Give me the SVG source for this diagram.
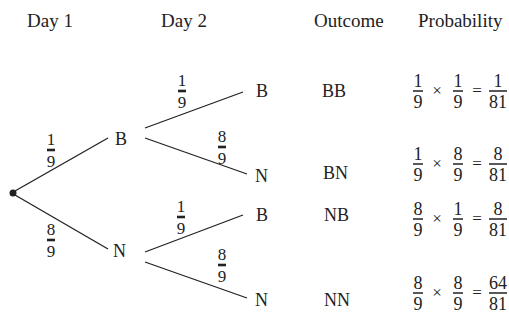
<svg xmlns="http://www.w3.org/2000/svg" width="509" height="327" viewBox="0 0 509 327">
<style>
text{font-family:"Liberation Serif","Times New Roman",serif;fill:#222}
.h{font-size:19px}
.n{font-size:18px}
.d{font-size:17px;text-anchor:middle}
.p{font-size:18px;text-anchor:middle}
.op{font-size:17px;text-anchor:middle}
.e{stroke:#222;stroke-width:1.3;fill:none}
.tb{stroke:#222;stroke-width:2.6}
.pb{stroke:#222;stroke-width:1.5}
</style>
<g id="headers">
<text class="h" x="27" y="27">Day 1</text>
<text class="h" x="161" y="27">Day 2</text>
<text class="h" x="314" y="27">Outcome</text>
<text class="h" x="418" y="27">Probability</text>
</g>
<g id="connectors">
<line class="e" x1="15" y1="191" x2="108" y2="138"/>
<line class="e" x1="15" y1="195" x2="108" y2="249"/>
<line class="e" x1="145" y1="128" x2="243" y2="92"/>
<line class="e" x1="145" y1="138" x2="247" y2="174"/>
<line class="e" x1="145" y1="252" x2="243" y2="215"/>
<line class="e" x1="145" y1="262" x2="247" y2="298"/>
</g>
<g id="root"><circle cx="13" cy="193" r="3.5" fill="#222"/></g>
<g id="d1B"><text class="n" x="115" y="145">B</text></g>
<g id="d1N"><text class="n" x="113" y="257">N</text></g>
<g id="d2BB"><text class="n" x="256" y="97">B</text></g>
<g id="d2BN"><text class="n" x="255" y="182">N</text></g>
<g id="d2NB"><text class="n" x="256" y="221">B</text></g>
<g id="d2NN"><text class="n" x="255" y="306">N</text></g>
<g id="labels">
<g><text class="d" x="51" y="145">1</text><line class="tb" x1="47" y1="150" x2="55" y2="150"/><text class="d" x="51" y="167">9</text></g>
<g><text class="d" x="51" y="235">8</text><line class="tb" x1="47" y1="240" x2="55" y2="240"/><text class="d" x="51" y="257">9</text></g>
<g><text class="d" x="182" y="86">1</text><line class="tb" x1="178" y1="91" x2="186" y2="91"/><text class="d" x="182" y="108">9</text></g>
<g><text class="d" x="222" y="142">8</text><line class="tb" x1="218" y1="147" x2="226" y2="147"/><text class="d" x="222" y="164">9</text></g>
<g><text class="d" x="181" y="212">1</text><line class="tb" x1="177" y1="217" x2="185" y2="217"/><text class="d" x="181" y="234">9</text></g>
<g><text class="d" x="222" y="260">8</text><line class="tb" x1="218" y1="265" x2="226" y2="265"/><text class="d" x="222" y="282">9</text></g>
</g>
<g id="outcomes">
<text class="n" x="322" y="97">BB</text>
<text class="n" x="323" y="179">BN</text>
<text class="n" x="324" y="221">NB</text>
<text class="n" x="324" y="306">NN</text>
</g>
<g id="prob1">
<text class="p" x="418" y="87">1</text><line class="pb" x1="413" y1="91" x2="423" y2="91"/><text class="p" x="418" y="108">9</text>
<text class="op" x="437" y="96">×</text>
<text class="p" x="458" y="87">1</text><line class="pb" x1="453" y1="91" x2="463" y2="91"/><text class="p" x="458" y="108">9</text>
<text class="op" x="477" y="96">=</text>
<text class="p" x="498" y="87">1</text><line class="pb" x1="489" y1="91" x2="507" y2="91"/><text class="p" x="498" y="108">81</text>
</g>
<g id="prob2">
<text class="p" x="418" y="160">1</text><line class="pb" x1="413" y1="164" x2="423" y2="164"/><text class="p" x="418" y="181">9</text>
<text class="op" x="437" y="169">×</text>
<text class="p" x="458" y="160">8</text><line class="pb" x1="453" y1="164" x2="463" y2="164"/><text class="p" x="458" y="181">9</text>
<text class="op" x="477" y="169">=</text>
<text class="p" x="498" y="160">8</text><line class="pb" x1="489" y1="164" x2="507" y2="164"/><text class="p" x="498" y="181">81</text>
</g>
<g id="prob3">
<text class="p" x="418" y="215">8</text><line class="pb" x1="413" y1="219" x2="423" y2="219"/><text class="p" x="418" y="236">9</text>
<text class="op" x="437" y="224">×</text>
<text class="p" x="458" y="215">1</text><line class="pb" x1="453" y1="219" x2="463" y2="219"/><text class="p" x="458" y="236">9</text>
<text class="op" x="477" y="224">=</text>
<text class="p" x="498" y="215">8</text><line class="pb" x1="489" y1="219" x2="507" y2="219"/><text class="p" x="498" y="236">81</text>
</g>
<g id="prob4">
<text class="p" x="418" y="289">8</text><line class="pb" x1="413" y1="293" x2="423" y2="293"/><text class="p" x="418" y="310">9</text>
<text class="op" x="437" y="298">×</text>
<text class="p" x="458" y="289">8</text><line class="pb" x1="453" y1="293" x2="463" y2="293"/><text class="p" x="458" y="310">9</text>
<text class="op" x="477" y="298">=</text>
<text class="p" x="498" y="289">64</text><line class="pb" x1="489" y1="293" x2="507" y2="293"/><text class="p" x="498" y="310">81</text>
</g>
</svg>
